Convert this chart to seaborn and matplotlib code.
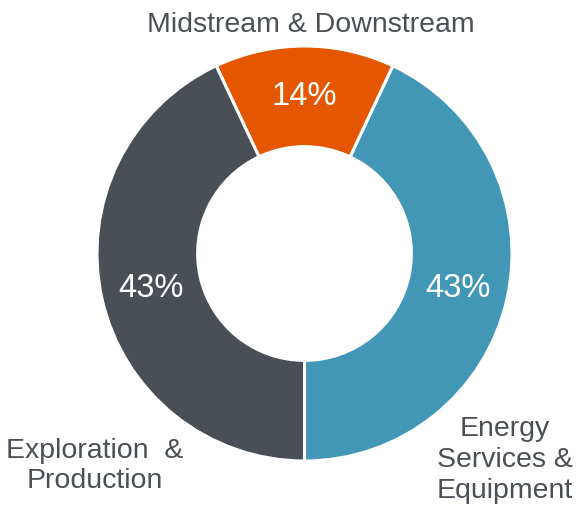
"""
Donut chart: sector split (Energy Services, Midstream, E&P).
"""

import matplotlib
matplotlib.use("Agg")
import matplotlib.pyplot as plt
import seaborn as sns

sns.set_theme(style="white")
plt.rcParams['font.family'] = ['Liberation Sans', 'DejaVu Sans']

# data, counterclockwise from the bottom
sectors = ['Energy\nServices &\nEquipment', 'Midstream & Downstream', 'Exploration  &\nProduction']
shares = [43, 14, 43]
colors = ['#4297b6', '#e55600', '#4a4f56']
text_color = '#4b5057'

# label anchors (in radius units)
label_pos = [(0.965, -0.99), (0.03, 1.105), (-1.01, -1.02)]

fig = plt.figure(figsize=(5.76, 5.06), dpi=100)
ax = fig.add_axes([0, 0, 1, 1])

wedges, texts, autotexts = ax.pie(
    shares, colors=colors, startangle=270, counterclock=True,
    radius=1.0, autopct='%d%%', pctdistance=0.76,
    wedgeprops=dict(width=0.485, edgecolor='white', linewidth=2.2),
    textprops=dict(color='white', fontsize=23.5),
)

for name, (x, y) in zip(sectors, label_pos):
    ax.text(x, y, name, ha='center', va='center', fontsize=20.5,
            color=text_color, linespacing=1.23)

ax.set_xlim(-1.4675, 1.3084)
ax.set_ylim(-1.212, 1.2265)
ax.set_aspect('auto')
ax.axis('off')

plt.savefig("out.png", dpi=100)
plt.close()
